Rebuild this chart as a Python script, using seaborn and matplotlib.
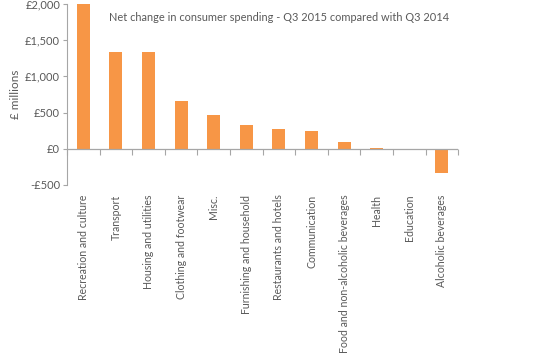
import matplotlib
matplotlib.use("Agg")
import matplotlib.pyplot as plt
import seaborn as sns
import pandas as pd
import numpy as np
from matplotlib.ticker import FuncFormatter, FixedLocator

categories = ["Recreation and culture", "Transport", "Housing and utilities",
              "Clothing and footwear", "Misc.", "Furnishing and household",
              "Restaurants and hotels", "Communication",
              "Food and non-alcoholic beverages", "Health", "Education",
              "Alcoholic beverages"]
values = [2000, 1340, 1340, 660, 465, 330, 275, 245, 97, 15, -6, -340]
yticks = [-500, 0, 500, 1000, 1500, 2000]
title = "Net change in consumer spending - Q3 2015 compared with Q3 2014"

sns.set_style("white")
plt.rcParams['font.family'] = ['Lato', 'DejaVu Sans']
grey = "#595959"
axis_grey = "#A6A6A6"

df = pd.DataFrame({"category": categories, "value": values})
fig = plt.figure(figsize=(5.5, 3.59), dpi=100)
ax = fig.add_axes([0.122, 0.485, 0.711, 0.504])
sns.barplot(data=df, x="category", y="value", color="#F79646", saturation=1,
            width=0.4, ax=ax, linewidth=0)
ax.axhline(0, color=axis_grey, lw=0.9, zorder=3)
ax.set_ylim(-500, 2000)
ax.set_xlim(-0.5, len(categories) - 0.5)
ax.set_yticks(yticks)
ax.yaxis.set_major_formatter(FuncFormatter(lambda v, p: ("-£{:,.0f}" if v < 0 else "£{:,.0f}").format(abs(v))))
ax.tick_params(axis="y", direction="out", length=3, color=axis_grey, labelsize=8,
               labelcolor=grey, width=0.8, left=True, pad=2)
ax.tick_params(axis="x", length=0, labelsize=7.6, labelcolor=grey, rotation=90, pad=7)
ax.set_xlabel("")
ax.set_ylabel("£ millions", color=grey, fontsize=8.5, labelpad=3)
for s in ["top", "right", "bottom"]:
    ax.spines[s].set_visible(False)
ax.spines["left"].set_color(axis_grey)
ax.spines["left"].set_linewidth(0.8)

sec = ax.secondary_xaxis(0.2)
sec.xaxis.set_major_locator(FixedLocator(np.arange(-0.5, len(categories), 1.0)))
sec.tick_params(direction="out", length=4, color=axis_grey, width=0.8, labelbottom=False)
sec.spines["bottom"].set_visible(False)

ax.text(0.542, 0.923, title, transform=ax.transAxes, ha="center", va="center",
        fontsize=7.9, color=grey)

fig.savefig("out.png", dpi=100)
